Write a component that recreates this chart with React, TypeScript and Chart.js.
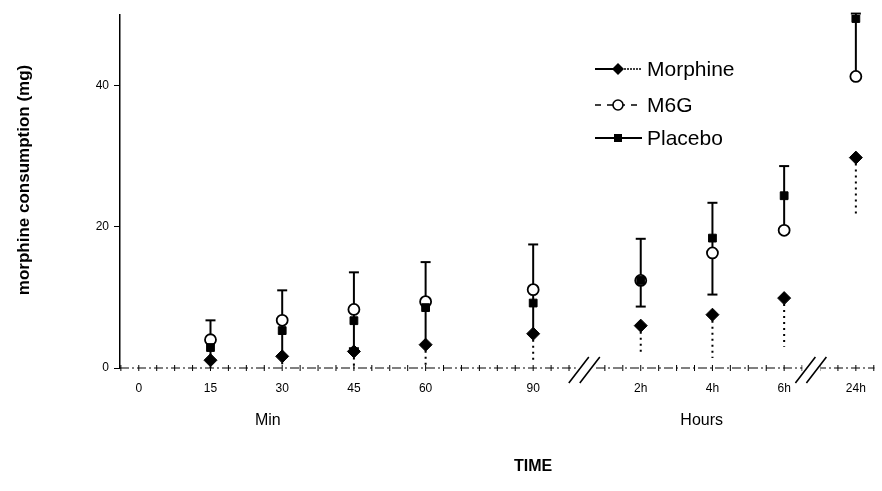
import React, { useEffect, useRef } from 'react';
import { Chart, registerables } from 'chart.js';

Chart.register(...registerables);

const timeLabels = ['0', '15', '30', '45', '60', '90', '2h', '4h', '6h', '24h'];
const timePositions = [0, 1, 2, 3, 4, 5.5, 7, 8, 9, 10];
const morphine = [null, 1.1, 1.65, 2.35, 3.3, 4.85, 6.0, 7.55, 9.9, 29.8];
const morphineLow = [null, 0, 0, 0, 0, 0.9, 2.2, 1.4, 3.0, 21.6];
const m6g = [null, 4.0, 6.75, 8.3, 9.4, 11.1, 12.4, 16.3, 19.5, 41.3];
const m6gLow = [null, 1.1, 1.65, 2.8, 3.3, 4.85, 8.7, 10.4, 19.5, 41.3];
const m6gLowCap = [false, false, false, true, false, false, true, true, false, false];
const placebo = [null, 2.9, 5.3, 6.7, 8.55, 9.2, 12.4, 18.4, 24.4, 49.5];
const placeboHigh = [null, 6.75, 11.0, 13.55, 15.0, 17.5, 18.3, 23.4, 28.6, 50.2];
const yTicks = [0, 20, 40];
const axisBreaks = [6.22, 9.38];
const minorStep = 0.25;
const seriesNames = ['Morphine', 'M6G', 'Placebo'];
const groupLabels = ['Min', 'Hours'];
const groupLabelAt = [1.8, 7.85];
const xTitle = 'TIME';
const yTitle = 'morphine consumption (mg)';

const FONT = 'Arial, "Liberation Sans", Helvetica, sans-serif';

function toPoints(vals: (number | null)[]) {
  const out: { x: number; y: number }[] = [];
  vals.forEach((v, i) => {
    if (v !== null) out.push({ x: timePositions[i], y: v });
  });
  return out;
}

const errorBarsPlugin = {
  id: 'errorBars',
  beforeDatasetsDraw(chart: any) {
    const { ctx, scales } = chart;
    const x = scales.x;
    const y = scales.y;
    ctx.save();
    ctx.strokeStyle = '#000';
    ctx.lineWidth = 2;
    ctx.setLineDash([]);
    timePositions.forEach((t, i) => {
      const hi = placeboHigh[i];
      const lo = m6gLow[i];
      if (hi === null || lo === null) return;
      const px = x.getPixelForValue(t);
      const yt = y.getPixelForValue(hi);
      const yb = y.getPixelForValue(lo);
      ctx.beginPath();
      ctx.moveTo(px, yt);
      ctx.lineTo(px, yb);
      ctx.stroke();
      ctx.beginPath();
      ctx.moveTo(px - 5, yt);
      ctx.lineTo(px + 5, yt);
      ctx.stroke();
      if (m6gLowCap[i]) {
        ctx.beginPath();
        ctx.moveTo(px - 5, yb);
        ctx.lineTo(px + 5, yb);
        ctx.stroke();
      }
    });
    ctx.setLineDash([2, 4]);
    ctx.lineWidth = 2;
    timePositions.forEach((t, i) => {
      const v = morphine[i];
      const lo = morphineLow[i];
      if (v === null || lo === null) return;
      const px = x.getPixelForValue(t);
      ctx.beginPath();
      ctx.moveTo(px, y.getPixelForValue(v));
      ctx.lineTo(px, y.getPixelForValue(lo));
      ctx.stroke();
    });
    ctx.restore();
  },
};

const axisPlugin = {
  id: 'customAxis',
  beforeDatasetsDraw(chart: any) {
    const { ctx, scales, chartArea } = chart;
    const x = scales.x;
    const y = scales.y;
    const y0 = y.getPixelForValue(0);
    ctx.save();
    ctx.strokeStyle = '#000';
    ctx.lineWidth = 1;
    ctx.setLineDash([9, 3, 2, 3]);
    ctx.beginPath();
    ctx.moveTo(chartArea.left, y0);
    ctx.lineTo(chartArea.right, y0);
    ctx.stroke();
    ctx.setLineDash([]);
    const start = Math.ceil(x.min / minorStep) * minorStep;
    for (let v = start; v <= x.max + 1e-9; v += minorStep) {
      const px = x.getPixelForValue(v);
      ctx.beginPath();
      ctx.moveTo(px, y0 - 3);
      ctx.lineTo(px, y0 + 3);
      ctx.stroke();
    }
    axisBreaks.forEach((b) => {
      const px = x.getPixelForValue(b);
      ctx.fillStyle = '#fff';
      ctx.fillRect(px - 9, y0 - 4, 18, 8);
      ctx.lineWidth = 1.6;
      ctx.beginPath();
      ctx.moveTo(px - 16, y0 + 15);
      ctx.lineTo(px + 4, y0 - 11);
      ctx.moveTo(px - 5, y0 + 15);
      ctx.lineTo(px + 15, y0 - 11);
      ctx.stroke();
    });
    ctx.restore();
  },
  afterDraw(chart: any) {
    const { ctx, scales } = chart;
    const x = scales.x;
    ctx.save();
    ctx.fillStyle = '#000';
    ctx.textAlign = 'center';
    ctx.textBaseline = 'middle';
    ctx.font = `16px ${FONT}`;
    groupLabels.forEach((g, i) => {
      ctx.fillText(g, x.getPixelForValue(groupLabelAt[i]), 421);
    });
    ctx.font = `bold 16px ${FONT}`;
    ctx.fillText(xTitle, x.getPixelForValue(timePositions[5]), 467);
    ctx.translate(24, 180);
    ctx.rotate(-Math.PI / 2);
    ctx.font = `bold 17px ${FONT}`;
    ctx.fillText(yTitle, 0, 0);
    ctx.restore();
  },
};

const legendPlugin = {
  id: 'customLegend',
  afterDraw(chart: any) {
    const { ctx } = chart;
    const rowsY = [69, 105, 138];
    const x1 = 595;
    const x2 = 642;
    const xm = 618;
    ctx.save();
    ctx.strokeStyle = '#000';
    ctx.fillStyle = '#000';
    seriesNames.forEach((name, i) => {
      const yy = rowsY[i];
      ctx.lineWidth = 2;
      if (i === 0) {
        ctx.setLineDash([]);
        ctx.beginPath();
        ctx.moveTo(x1, yy);
        ctx.lineTo(xm, yy);
        ctx.stroke();
        ctx.lineWidth = 1.3;
        ctx.setLineDash([2, 1]);
        ctx.beginPath();
        ctx.moveTo(xm, yy);
        ctx.lineTo(x2, yy);
        ctx.stroke();
      } else if (i === 1) {
        ctx.setLineDash([6, 6]);
        ctx.lineWidth = 1.5;
        ctx.beginPath();
        ctx.moveTo(x1, yy);
        ctx.lineTo(x2, yy);
        ctx.stroke();
      } else {
        ctx.setLineDash([]);
        ctx.beginPath();
        ctx.moveTo(x1, yy);
        ctx.lineTo(x2, yy);
        ctx.stroke();
      }
      ctx.setLineDash([]);
      ctx.lineWidth = 1.6;
      if (i === 0) {
        ctx.beginPath();
        ctx.moveTo(xm, yy - 6);
        ctx.lineTo(xm + 6, yy);
        ctx.lineTo(xm, yy + 6);
        ctx.lineTo(xm - 6, yy);
        ctx.closePath();
        ctx.fill();
      } else if (i === 1) {
        ctx.fillStyle = '#fff';
        ctx.beginPath();
        ctx.arc(xm, yy, 5, 0, Math.PI * 2);
        ctx.fill();
        ctx.stroke();
        ctx.fillStyle = '#000';
      } else {
        ctx.fillRect(xm - 4, yy - 4, 8, 8);
      }
      ctx.font = `21px ${FONT}`;
      ctx.textAlign = 'left';
      ctx.textBaseline = 'middle';
      ctx.fillText(name, 647, yy + 1);
    });
    ctx.restore();
  },
};

export default function App() {
  const ref = useRef<HTMLCanvasElement | null>(null);
  useEffect(() => {
    document.body.style.margin = '0';
    const canvas = ref.current;
    if (!canvas) return;
    const chart = new Chart(canvas, {
      type: 'scatter',
      data: {
        datasets: [
          {
            label: seriesNames[0],
            data: toPoints(morphine),
            pointStyle: 'rectRot',
            pointRadius: 6.5,
            backgroundColor: '#000',
            borderColor: '#000',
            borderWidth: 1,
            showLine: false,
          },
          {
            label: seriesNames[2],
            data: toPoints(placebo),
            pointStyle: 'rect',
            pointRadius: 5.5,
            backgroundColor: '#000',
            borderColor: '#000',
            borderWidth: 1,
            showLine: false,
          },
          {
            label: seriesNames[1],
            data: toPoints(m6g),
            pointStyle: 'circle',
            pointRadius: 5.5,
            backgroundColor: '#fff',
            borderColor: '#000',
            borderWidth: 1.8,
            showLine: false,
          },
        ],
      },
      options: {
        animation: false,
        responsive: false,
        devicePixelRatio: 1,
        layout: { padding: { top: 15, left: 0, right: 0, bottom: 0 } },
        plugins: {
          legend: { display: false },
          tooltip: { enabled: false },
        },
        scales: {
          x: {
            type: 'linear',
            min: -0.262,
            max: 10.26,
            afterBuildTicks: (s: any) => {
              s.ticks = timePositions.map((v) => ({ value: v }));
            },
            afterFit: (s: any) => {
              s.height = 123;
            },
            ticks: {
              autoSkip: false,
              maxRotation: 0,
              padding: 5,
              color: '#000',
              font: { size: 12, family: FONT },
              callback: (_v: any, idx: number) => timeLabels[idx],
            },
            grid: { display: false },
            border: { display: false },
          },
          y: {
            type: 'linear',
            min: 0,
            max: 50,
            afterBuildTicks: (s: any) => {
              s.ticks = yTicks.map((v) => ({ value: v }));
            },
            afterFit: (s: any) => {
              s.width = 120;
            },
            ticks: {
              padding: 5,
              color: '#000',
              font: { size: 12, family: FONT },
            },
            grid: {
              display: true,
              drawOnChartArea: false,
              drawTicks: true,
              tickLength: 6,
              color: '#000',
            },
            border: { display: true, color: '#000', width: 1.5 },
            title: { display: false },
          },
        },
      },
      plugins: [axisPlugin, errorBarsPlugin, legendPlugin],
    } as any);
    return () => chart.destroy();
  }, []);
  return (
    <div style={{ width: 882, height: 491, background: '#fff' }}>
      <canvas ref={ref} width={882} height={491} style={{ display: 'block' }} />
    </div>
  );
}
